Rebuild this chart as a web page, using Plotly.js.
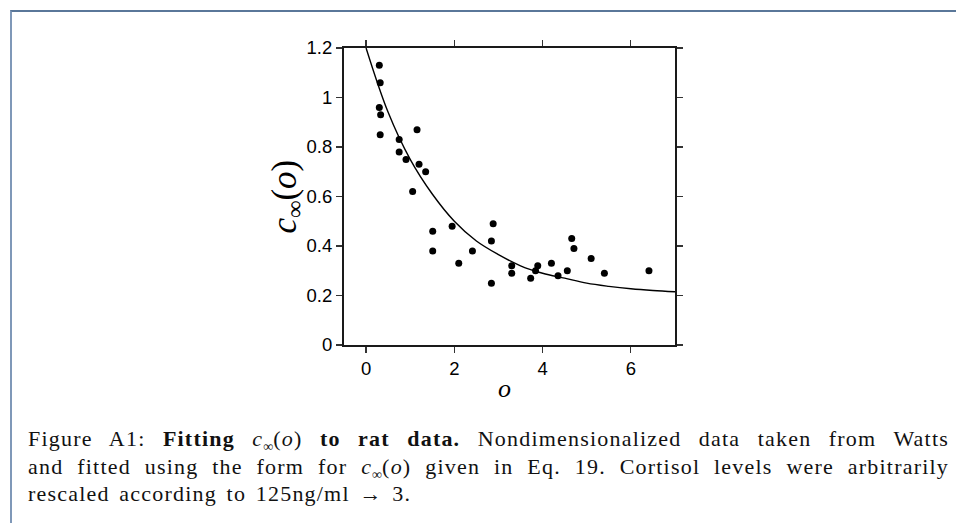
<!DOCTYPE html>
<html>
<head>
<meta charset="utf-8">
<script src="https://cdn.plot.ly/plotly-3.0.1.min.js"></script>
<style>
  html, body { margin: 0; padding: 0; background: #ffffff; }
  #wrap { position: relative; width: 956px; height: 523px; overflow: hidden; background: #fff; }
  #frame { position: absolute; left: 10px; top: 10px; width: 946px; height: 513px;
           border-top: 2px solid #5a7799; border-left: 2px solid #7f98b8; box-sizing: border-box; }
  #plot { position: absolute; left: 0; top: 0; width: 956px; height: 523px; }
  #caption { position: absolute; left: 28px; top: 425px; width: 921px;
             font-family: "Liberation Serif", "Times New Roman", serif; font-size: 22px;
             letter-spacing: 1.2px; word-spacing: 3px; line-height: 27.5px; color: #111; }
  #caption .ln { display: block; text-align: justify; text-align-last: justify; white-space: nowrap; }
  #caption .ln.last { text-align-last: left; }
  #caption sub { font-size: 14px; line-height: 0; letter-spacing: 0; }
</style>
</head>
<body>
<div id="wrap">
  <div id="plot"></div>
  <div id="frame"></div>
  <div id="caption">
    <span class="ln">Figure A1: <b>Fitting</b> <i>c</i><sub>∞</sub>(<i>o</i>) <b>to rat data.</b> Nondimensionalized data taken from Watts</span>
    <span class="ln">and fitted using the form for <i>c</i><sub>∞</sub>(<i>o</i>) given in Eq. 19. Cortisol levels were arbitrarily</span>
    <span class="ln last">rescaled according to 125ng/ml → 3.</span>
  </div>
</div>
<script>
const obsX = [0.30, 0.32, 0.30, 0.33, 0.32, 1.155, 0.75, 0.75, 0.905, 1.20, 1.35, 1.055,
              1.51, 1.51, 1.95, 2.10, 2.41, 2.88, 2.84, 2.84, 3.30, 3.30, 3.73, 3.84,
              3.89, 4.20, 4.35, 4.56, 4.66, 4.71, 5.10, 5.40, 6.41];
const obsY = [1.13, 1.06, 0.96, 0.93, 0.85, 0.87, 0.83, 0.78, 0.75, 0.73, 0.70, 0.62,
              0.46, 0.38, 0.48, 0.33, 0.38, 0.49, 0.42, 0.25, 0.32, 0.29, 0.27, 0.30,
              0.32, 0.33, 0.28, 0.30, 0.43, 0.39, 0.35, 0.29, 0.30];

// Fitted curve, values
const fitX = [0, 0.5, 1, 1.5, 2, 2.5, 3, 3.5, 4, 4.5, 5, 5.5, 6, 6.5, 7];
const fitY = [1.2, 0.94, 0.75, 0.61, 0.50, 0.42, 0.365, 0.32, 0.29, 0.27, 0.25, 0.237, 0.227, 0.22, 0.215];

const xTicks = [0, 2, 4, 6];
const yTicks = [0, 0.2, 0.4, 0.6, 0.8, 1, 1.2];

const traces = [
  { x: fitX, y: fitY, type: 'scatter', mode: 'lines',
    line: { color: '#000', width: 1.4, shape: 'spline' }, hoverinfo: 'skip' },
  { x: obsX, y: obsY, type: 'scatter', mode: 'markers',
    marker: { color: '#000', size: 7 } }
];

const axisCommon = {
  showgrid: false, zeroline: false, showline: true, linecolor: '#1a1a1a', linewidth: 2,
  mirror: 'ticks', ticks: 'outside', ticklen: 6, tickwidth: 1.2, tickcolor: '#333',
  tickfont: { family: 'Liberation Sans, Arial, sans-serif', size: 18.5, color: '#000' },
  fixedrange: true
};

const layout = {
  width: 956, height: 523,
  paper_bgcolor: 'rgba(0,0,0,0)', plot_bgcolor: '#fff',
  showlegend: false,
  margin: { l: 344, r: 281, t: 48, b: 177.5, pad: 0 },
  xaxis: Object.assign({}, axisCommon, { range: [-0.5, 7], tickvals: xTicks, ticktext: xTicks.map(String) }),
  yaxis: Object.assign({}, axisCommon, { range: [0, 1.2], tickvals: yTicks, ticktext: yTicks.map(v => String(v)) }),
  annotations: [
    { text: '<i>o</i>', xref: 'paper', yref: 'paper', x: 0.486, y: -0.145,
      xanchor: 'center', yanchor: 'middle', showarrow: false,
      font: { family: 'Liberation Serif, serif', size: 26, color: '#000' } },
    { text: '<i>c</i><sub>∞</sub>(<i>o</i>)', xref: 'paper', yref: 'paper', x: -0.175, y: 0.5,
      xanchor: 'center', yanchor: 'middle', textangle: -90, showarrow: false,
      font: { family: 'Liberation Serif, serif', size: 35, color: '#000' } }
  ]
};

Plotly.newPlot('plot', traces, layout, { staticPlot: true, displayModeBar: false });
</script>
</body>
</html>
